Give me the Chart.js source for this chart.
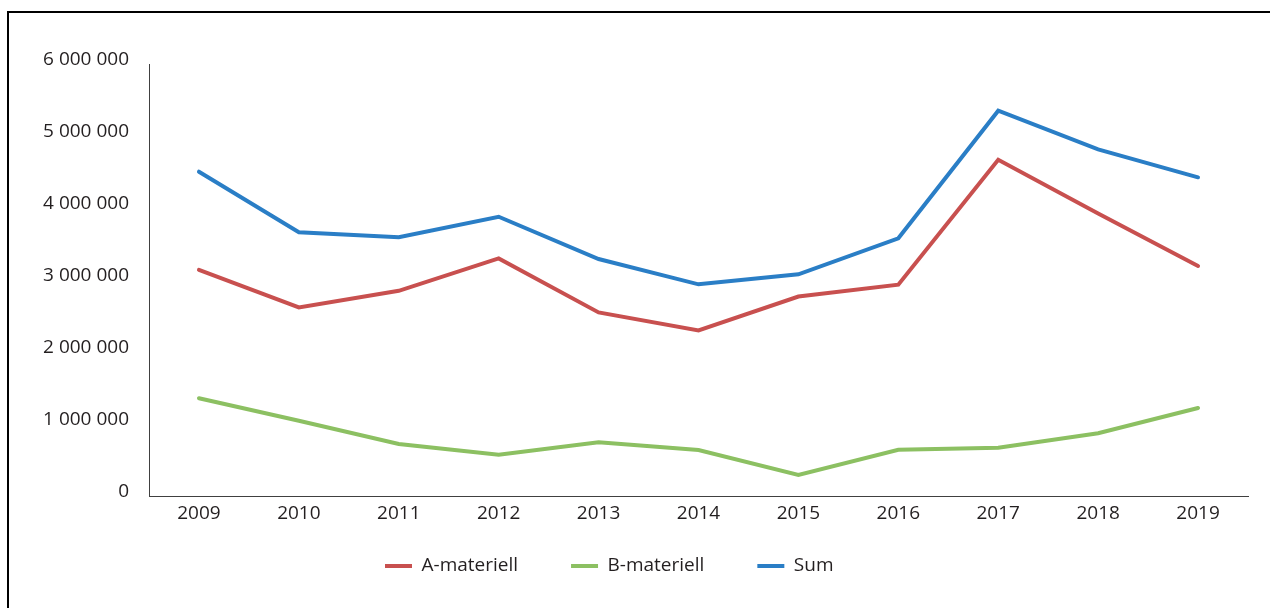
<!DOCTYPE html>
<html>
<head>
<meta charset="utf-8">
<script src="https://cdn.jsdelivr.net/npm/chart.js@4"></script>
<style>
    html, body { margin: 0; padding: 0; background: #fff; overflow: hidden; }
    #wrap { position: relative; width: 1270px; height: 608px; }
    #frame {
        position: absolute; left: 7px; top: 11px; width: 1400px; height: 700px;
        border-left: 2px solid #000; border-top: 2px solid #000; pointer-events: none;
    }
</style>
</head>
<body>
<div id="wrap">
    <canvas id="trend" width="1270" height="608"></canvas>
    <div id="frame"></div>
</div>
<script>
const years     = ['2009', '2010', '2011', '2012', '2013', '2014', '2015', '2016', '2017', '2018', '2019'];
const aMateriell = [3140000, 2620000, 2850000, 3300000, 2550000, 2300000, 2770000, 2935000, 4670000, 3925000, 3195000];
const bMateriell = [1357000, 1046000, 722000, 574000, 746000, 639000, 292000, 643000, 671000, 871000, 1222000];
const sumValues  = [4504000, 3663000, 3593000, 3879000, 3292000, 2940000, 3079000, 3579000, 5351000, 4815000, 4426000];
const yTicks     = [0, 1000000, 2000000, 3000000, 4000000, 5000000, 6000000];

const chartColors = {
    'red'   : '#c8504f',
    'green' : '#8cc062',
    'blue'  : '#2a7ec6',
    'text'  : '#231f20',
    'axis'  : '#404040'
};

const fontFamily = "'Open Sans', sans-serif";

function spaced(v)
{
    return String(v).replace(/\B(?=(\d{3})+(?!\d))/g, ' ');
}

function lineSet(label, data, color)
{
    return {
        label           : label,
        data            : data,
        borderColor     : color,
        backgroundColor : color,
        borderWidth     : 4,
        borderCapStyle  : 'round',
        pointRadius     : 0,
        pointHoverRadius: 0,
        tension         : 0
    };
}

// legend sits below the ticks, left-shifted like the original
const legendPlace = {
    id: 'legendPlace',
    beforeLayout(chart) {
        const lg = chart.legend;
        if (lg && !lg._fixed) {
            const fit = lg.fit;
            lg.fit = function () {
                fit.call(this);
                this.height = 82;
            };
            lg._fixed = true;
        }
    },
    afterLayout(chart) {
        const lg = chart.legend;
        const pad = lg.options.labels.padding;
        lg.left = 385 - pad;
        lg.top  = 566 - pad - 9.5;
    }
};

const ctx = document.getElementById('trend');

new Chart(ctx, {
    type: 'line',
    data: {
        labels: years,
        datasets: [
            lineSet('A-materiell', aMateriell, chartColors['red']),
            lineSet('B-materiell', bMateriell, chartColors['green']),
            lineSet('Sum', sumValues, chartColors['blue'])
        ]
    },
    options: {
        responsive: false,
        animation: false,
        events: [],
        layout: {
            padding: { left: 0, right: 22, top: 64, bottom: 0 }
        },
        scales: {
            x: {
                offset: true,
                grid: { display: false, drawTicks: false },
                border: { display: true, color: chartColors['axis'], width: 1 },
                ticks: {
                    padding: 6,
                    color: chartColors['text'],
                    font: { family: fontFamily, size: 19 },
                    maxRotation: 0
                },
                afterFit: function (scale) { scale.height = 30; }
            },
            y: {
                min: 0,
                max: 6000000,
                grid: { display: false, drawTicks: false },
                border: { display: true, color: chartColors['axis'], width: 1 },
                afterBuildTicks: function (scale) {
                    scale.ticks = yTicks.map(v => ({ value: v }));
                },
                ticks: {
                    padding: 20,
                    labelOffset: -4,
                    color: chartColors['text'],
                    font: { family: fontFamily, size: 19 },
                    callback: function (value) { return spaced(value); }
                },
                afterFit: function (scale) { scale.width = 149; }
            }
        },
        plugins: {
            legend: {
                position: 'bottom',
                align: 'start',
                labels: {
                    usePointStyle: true,
                    pointStyle: 'line',
                    pointStyleWidth: 27,
                    padding: 53,
                    color: chartColors['text'],
                    font: { family: fontFamily, size: 19 }
                }
            },
            tooltip: { enabled: false }
        }
    },
    plugins: [legendPlace]
});
</script>
</body>
</html>
